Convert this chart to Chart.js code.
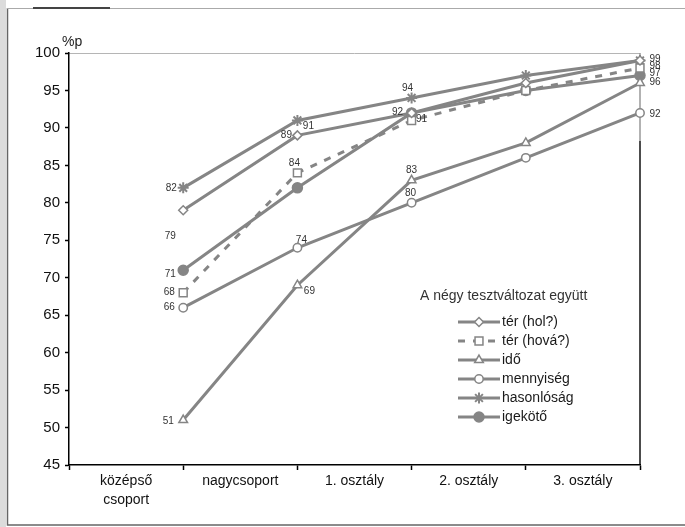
<!DOCTYPE html>
<html>
<head>
<meta charset="utf-8">
<script src="https://cdn.jsdelivr.net/npm/chart.js@4"></script>
<style>
html,body{margin:0;padding:0;background:#fff;}
#wrap{position:relative;width:685px;height:527px;}
canvas{display:block;}
</style>
</head>
<body>
<div id="wrap"><canvas id="c" width="685" height="527"></canvas></div>
<script>
// ---- data ----
const categories = [['középső', 'csoport'], 'nagycsoport', '1. osztály', '2. osztály', '3. osztály'];
const yTicks = [45, 50, 55, 60, 65, 70, 75, 80, 85, 90, 95, 100];
const seriesNames = ['tér (hol?)', 'tér (hová?)', 'idő', 'mennyiség', 'hasonlóság', 'igekötő'];
const terHol = [79, 89, 92, 96, 99];
const terHova = [68, 84, 91, 95, 98];
const ido = [51, 69, 83, 88, 96];
const mennyiseg = [66, 74, 80, 86, 92];
const hasonlosag = [82, 91, 94, 97, 99];
const igekoto = [71, 82, 92, 95, 97];
const legendTitle = 'A négy tesztváltozat együtt';
const yUnit = '%p';

// ---- styling ----
const FONT = "'Liberation Sans', Arial, sans-serif";
const GRAY = '#858585';
const values = [terHol, terHova, ido, mennyiseg, hasonlosag, igekoto];
const styles = [
  {pointStyle: 'rectRot', radius: 4.5, fill: '#fff', dash: []},
  {pointStyle: 'rect', radius: 5.6, fill: '#fff', dash: [7, 8]},
  {pointStyle: 'triangle', radius: 5, fill: '#fff', dash: []},
  {pointStyle: 'circle', radius: 4.2, fill: '#fff', dash: []},
  {pointStyle: 'star', radius: 5.5, fill: GRAY, dash: []},
  {pointStyle: 'circle', radius: 5, fill: GRAY, dash: []}
];
// label offsets [dx, dy] per point (null = no label)
const labelOffsets = [
  [[-13, 26], [-11, 0], null, null, null],
  [[-14, 0], [-3, -10], [10, -1], null, [15, -2]],
  [[-15, 1], [12, 6], [0, -10], null, [15, -1]],
  [[-14, 0], [4, -8], [-1, -10], null, [15, 1]],
  [[-12, 0], [11, 6], [-4, -10], null, [15, -1]],
  [[-13, 4], null, [-14, -1], null, [15, -2]]
];

const datasets = seriesNames.map((name, i) => ({
  label: name,
  data: values[i].map((v, j) => ({x: j + 1, y: v})),
  borderColor: GRAY,
  borderWidth: 3,
  borderDash: styles[i].dash,
  pointStyle: styles[i].pointStyle,
  pointRadius: styles[i].radius,
  pointBackgroundColor: styles[i].fill,
  pointBorderColor: GRAY,
  pointBorderWidth: i === 4 ? 2 : 1.5,
  tension: 0,
  fill: false,
  clip: false
}));

const framePlugin = {
  id: 'frame',
  beforeDraw(chart) {
    const ctx = chart.ctx;
    const a = chart.chartArea;
    ctx.save();
    ctx.fillStyle = '#fff';
    ctx.fillRect(0, 0, chart.width, chart.height);
    // page frame
    ctx.fillStyle = '#dcdcdc';
    ctx.fillRect(0, 0, 6, chart.height);
    ctx.strokeStyle = '#666';
    ctx.lineWidth = 1.5;
    ctx.beginPath();
    ctx.moveTo(7.5, 8); ctx.lineTo(7.5, 525); ctx.lineTo(685, 525);
    ctx.stroke();
    ctx.strokeStyle = '#aaa';
    ctx.lineWidth = 1;
    ctx.beginPath(); ctx.moveTo(7, 8.5); ctx.lineTo(685, 8.5); ctx.stroke();
    ctx.strokeStyle = '#444';
    ctx.lineWidth = 2;
    ctx.beginPath(); ctx.moveTo(33, 8); ctx.lineTo(110, 8); ctx.stroke();
    // plot area top and right border
    ctx.strokeStyle = '#b5b5b5';
    ctx.lineWidth = 1;
    ctx.beginPath(); ctx.moveTo(a.left, a.top + 0.5); ctx.lineTo(a.right, a.top + 0.5); ctx.stroke();
    ctx.strokeStyle = '#999';
    ctx.lineWidth = 1.5;
    ctx.beginPath(); ctx.moveTo(a.right, a.top); ctx.lineTo(a.right, a.top + 88); ctx.stroke();
    ctx.strokeStyle = '#111';
    ctx.beginPath(); ctx.moveTo(a.right, a.top + 88); ctx.lineTo(a.right, a.bottom); ctx.stroke();
    ctx.restore();
  },
  afterDraw(chart) {
    const ctx = chart.ctx;
    const a = chart.chartArea;
    ctx.save();
    // unit label
    ctx.font = '14px ' + FONT;
    ctx.fillStyle = '#222';
    ctx.textAlign = 'left';
    ctx.textBaseline = 'middle';
    ctx.fillText(yUnit, a.left - 7, a.top - 11);
    // data labels
    ctx.font = '10px ' + FONT;
    ctx.fillStyle = '#333';
    ctx.textAlign = 'center';
    chart.data.datasets.forEach((ds, i) => {
      const meta = chart.getDatasetMeta(i);
      meta.data.forEach((pt, j) => {
        const off = labelOffsets[i][j];
        if (!off) return;
        ctx.fillText(String(values[i][j]), pt.x + off[0], pt.y + off[1]);
      });
    });
    // legend
    const lx = a.left + 389, ly = a.top + 269, step = 19;
    ctx.font = '14px ' + FONT;
    ctx.fillStyle = '#333';
    ctx.textAlign = 'left';
    ctx.fillText(legendTitle, a.left + 351, a.top + 243);
    chart.data.datasets.forEach((ds, i) => {
      const y = ly + i * step;
      ctx.strokeStyle = ds.borderColor;
      ctx.lineWidth = 3;
      ctx.setLineDash(ds.borderDash || []);
      ctx.beginPath(); ctx.moveTo(lx, y); ctx.lineTo(lx + 42, y); ctx.stroke();
      ctx.setLineDash([]);
      ctx.fillStyle = ds.pointBackgroundColor;
      ctx.strokeStyle = ds.pointBorderColor;
      ctx.lineWidth = ds.pointBorderWidth;
      Chart.helpers.drawPoint(ctx, {pointStyle: ds.pointStyle, radius: ds.pointRadius, borderWidth: ds.pointBorderWidth, rotation: 0}, lx + 21, y);
      ctx.fillStyle = '#1a1a1a';
      ctx.font = '14px ' + FONT;
      ctx.fillText(ds.label, lx + 44, y);
    });
    ctx.restore();
  }
};

new Chart(document.getElementById('c'), {
  type: 'line',
  data: {datasets},
  plugins: [framePlugin],
  options: {
    responsive: false,
    animation: false,
    layout: {padding: {top: 53, right: 45, bottom: 0, left: 0}},
    plugins: {legend: {display: false}, tooltip: {enabled: false}},
    scales: {
      x: {
        type: 'linear',
        min: 0,
        max: categories.length,
        afterBuildTicks(s) {
          const t = [];
          for (let v = 0; v <= categories.length; v += 0.5) t.push({value: v});
          s.ticks = t;
        },
        afterFit(s) { s.height = 62; },
        ticks: {
          autoSkip: false, maxRotation: 0, minRotation: 0, padding: 1,
          color: '#111',
          font: {family: FONT, size: 14, lineHeight: 1.4},
          callback: (v) => (Math.abs((v % 1) - 0.5) < 1e-6 ? categories[Math.floor(v)] : '')
        },
        grid: {
          drawOnChartArea: false, drawTicks: true, tickLength: 5,
          tickColor: (c) => (c.tick && c.tick.value % 1 === 0 ? '#000' : 'rgba(0,0,0,0)'),
          tickWidth: 1.5
        },
        border: {color: '#000', width: 1.5}
      },
      y: {
        min: yTicks[0],
        max: yTicks[yTicks.length - 1],
        afterBuildTicks(s) { s.ticks = yTicks.map(v => ({value: v})); },
        afterFit(s) { s.width = 69; },
        ticks: {color: '#111', padding: 5, font: {family: FONT, size: 15}},
        grid: {drawOnChartArea: false, drawTicks: true, tickLength: 4, tickColor: '#000', tickWidth: 1.5},
        border: {color: '#000', width: 1.5}
      }
    }
  }
});
</script>
</body>
</html>
